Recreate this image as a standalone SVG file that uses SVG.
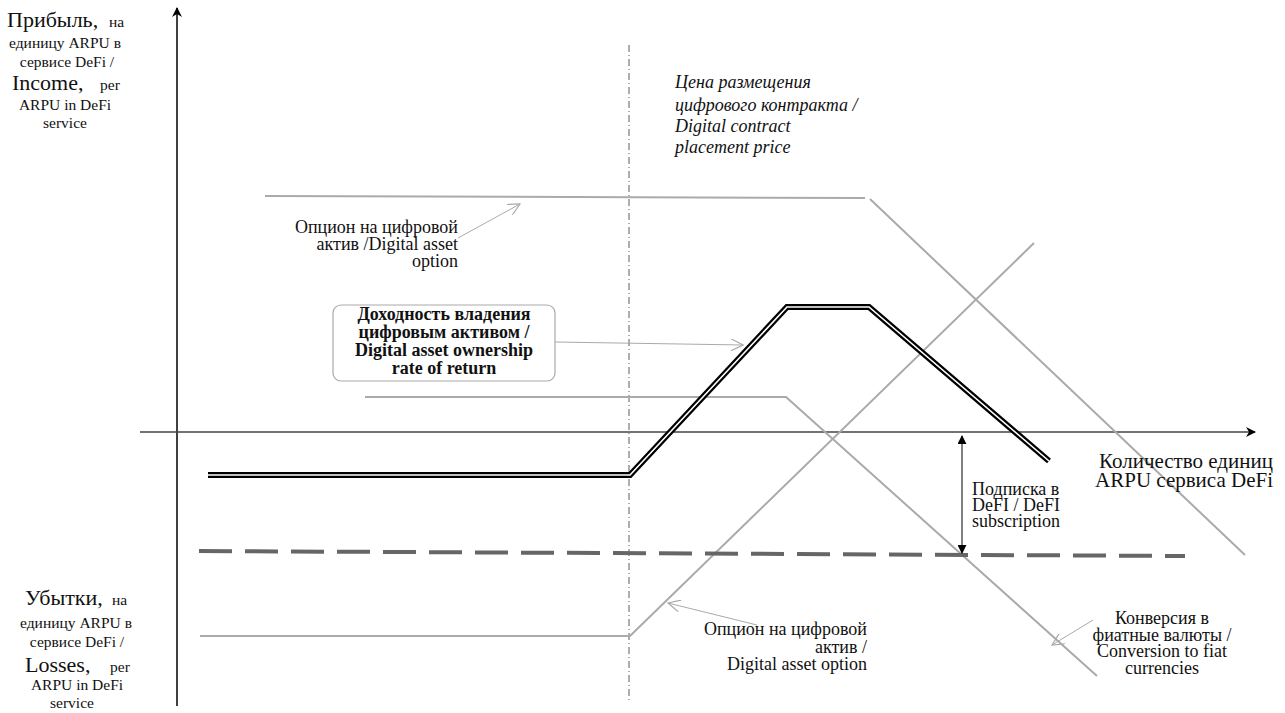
<svg xmlns="http://www.w3.org/2000/svg" width="1285" height="713" viewBox="0 0 1285 713" font-family="'Liberation Serif', 'DejaVu Serif', 'Times New Roman', serif">
  <style>
    text { font-family: "Liberation Serif", "DejaVu Serif", "Times New Roman", serif; fill: #111; }
    .lbl { font-size: 18px; }
    .big { font-size: 22px; }
    .sm { font-size: 15.5px; }
    .xl { font-size: 21px; }
    .bold { font-size: 18px; font-weight: bold; }
    .it { font-size: 18px; font-style: italic; }
    .axis { stroke: #000; stroke-width: 1.5; fill: none; }
    .gray { stroke: #aaa; stroke-width: 2; fill: none; }
    .ptr { stroke: #aaa; stroke-width: 1; fill: none; }
  </style>
  <defs>
    <marker id="solid" viewBox="0 0 10 10" refX="9" refY="5" markerWidth="9" markerHeight="9" markerUnits="userSpaceOnUse" orient="auto-start-reverse">
      <path d="M0,0 L10,5 L0,10 z" fill="#000"/>
    </marker>
    <marker id="axisHead" viewBox="0 0 10 10" refX="9" refY="5" markerWidth="12" markerHeight="10" markerUnits="userSpaceOnUse" orient="auto">
      <path d="M0,0 L10,5 L0,10 L3,5 z" fill="#000"/>
    </marker>
    <marker id="open" viewBox="0 0 10 10" refX="10" refY="5" markerWidth="14" markerHeight="12" markerUnits="userSpaceOnUse" orient="auto">
      <path d="M0,0 L10,5 L0,10" fill="none" stroke="#aaa" stroke-width="1"/>
    </marker>
  </defs>

  <!-- axes -->
  <g id="axes">
    <line x1="177" y1="706" x2="177" y2="8" class="axis" marker-end="url(#axisHead)"/>
    <line x1="140" y1="432" x2="1255" y2="432" stroke="#444" stroke-width="1.5" marker-end="url(#axisHead)"/>
    <line x1="629" y1="45" x2="629" y2="703" stroke="#333" stroke-width="0.8" stroke-dasharray="7 3 1 3"/>
  </g>

  <!-- curves -->
  <g id="curves">
    <polyline id="option-top" class="gray" points="265,196 865,198"/>
    <line class="gray" x1="870" y1="199" x2="1245" y2="555"/>
    <polyline id="option-bottom" class="gray" points="200,636 630,636 1034,243"/>
    <polyline id="conversion" class="gray" points="365,397 786,397 1097,676"/>
    <line id="subscription-level" x1="199" y1="551" x2="1185" y2="556" stroke="#666" stroke-width="4" stroke-dasharray="33 13"/>
    <g id="return">
      <polyline points="208,475 630,475 787,307 869,307 1049,461" fill="none" stroke="#000" stroke-width="6" stroke-linejoin="miter"/>
      <polyline points="208,475 630,475 787,307 869,307 1049,461" fill="none" stroke="#fff" stroke-width="1.6" stroke-linejoin="miter"/>
    </g>
  </g>

  <!-- connectors -->
  <g id="connectors">
    <line class="ptr" x1="458" y1="238" x2="520" y2="204" marker-end="url(#open)"/>
    <line class="ptr" x1="555" y1="342" x2="743" y2="345" marker-end="url(#open)"/>
    <line class="ptr" x1="757" y1="625" x2="668" y2="603" marker-end="url(#open)"/>
    <line class="ptr" x1="1093" y1="620" x2="1052" y2="645" marker-end="url(#open)"/>
    <line x1="962" y1="436" x2="962" y2="553" stroke="#000" stroke-width="1" marker-start="url(#solid)" marker-end="url(#solid)"/>
  </g>

  <!-- y axis labels -->
  <g id="label-income">
    <text x="7" y="27"><tspan class="big">Прибыль,</tspan><tspan class="sm" x="109">на</tspan></text>
    <g text-anchor="middle">
      <text class="sm" x="65" y="48">единицу ARPU  в</text>
      <text class="sm" x="67" y="67">сервисе DeFi  /</text>
      <text class="sm" x="65" y="110">ARPU in DeFi</text>
      <text class="sm" x="65" y="128">service</text>
    </g>
    <text x="12" y="90"><tspan class="big">Income,</tspan><tspan class="sm" x="100">per</tspan></text>
  </g>
  <g id="label-losses">
    <text x="25" y="605"><tspan class="big">Убытки,</tspan><tspan class="sm" x="112">на</tspan></text>
    <g text-anchor="middle">
      <text class="sm" x="76" y="628">единицу ARPU в</text>
      <text class="sm" x="77" y="647">сервисе DeFi /</text>
      <text class="sm" x="77" y="690">ARPU in DeFi</text>
      <text class="sm" x="72" y="708">service</text>
    </g>
    <text x="25" y="672"><tspan class="big">Losses,</tspan><tspan class="sm" x="110">per</tspan></text>
  </g>

  <!-- x axis label -->
  <g id="label-quantity" text-anchor="end">
    <text class="xl" x="1273" y="468">Количество единиц</text>
    <text class="xl" x="1273" y="487">ARPU  сервиса DeFi</text>
  </g>

  <!-- placement price -->
  <g id="label-price">
    <text class="it" x="675" y="88">Цена размещения</text>
    <text class="it" x="675" y="111">цифрового контракта /</text>
    <text class="it" x="675" y="132"> Digital contract</text>
    <text class="it" x="675" y="153">placement price</text>
  </g>

  <!-- option labels -->
  <g id="label-option-top" text-anchor="end">
    <text class="lbl" x="458" y="233">Опцион на цифровой</text>
    <text class="lbl" x="458" y="250">актив /Digital asset</text>
    <text class="lbl" x="458" y="267">option</text>
  </g>
  <g id="label-option-bottom" text-anchor="end">
    <text class="lbl" x="867" y="635">Опцион на цифровой</text>
    <text class="lbl" x="867" y="653">актив /</text>
    <text class="lbl" x="867" y="670">Digital asset option</text>
  </g>

  <!-- return box -->
  <g id="node-return">
    <rect x="333" y="305" width="222" height="76" rx="8" ry="8" fill="#fff" stroke="#aaa" stroke-width="1.2"/>
    <g text-anchor="middle">
      <text class="bold" x="444" y="320">Доходность владения</text>
      <text class="bold" x="444" y="338">цифровым активом /</text>
      <text class="bold" x="444" y="356">Digital asset ownership</text>
      <text class="bold" x="444" y="374">rate of return</text>
    </g>
  </g>

  <!-- subscription -->
  <g id="label-subscription">
    <text class="lbl" x="972" y="495">Подписка в</text>
    <text class="lbl" x="972" y="511">DeFI / DeFI</text>
    <text class="lbl" x="972" y="527">subscription</text>
  </g>

  <!-- conversion -->
  <g id="label-conversion" text-anchor="middle">
    <text class="lbl" x="1162" y="624">Конверсия в</text>
    <text class="lbl" x="1162" y="641">фиатные валюты /</text>
    <text class="lbl" x="1162" y="657">Conversion to fiat</text>
    <text class="lbl" x="1162" y="674">currencies</text>
  </g>
</svg>
